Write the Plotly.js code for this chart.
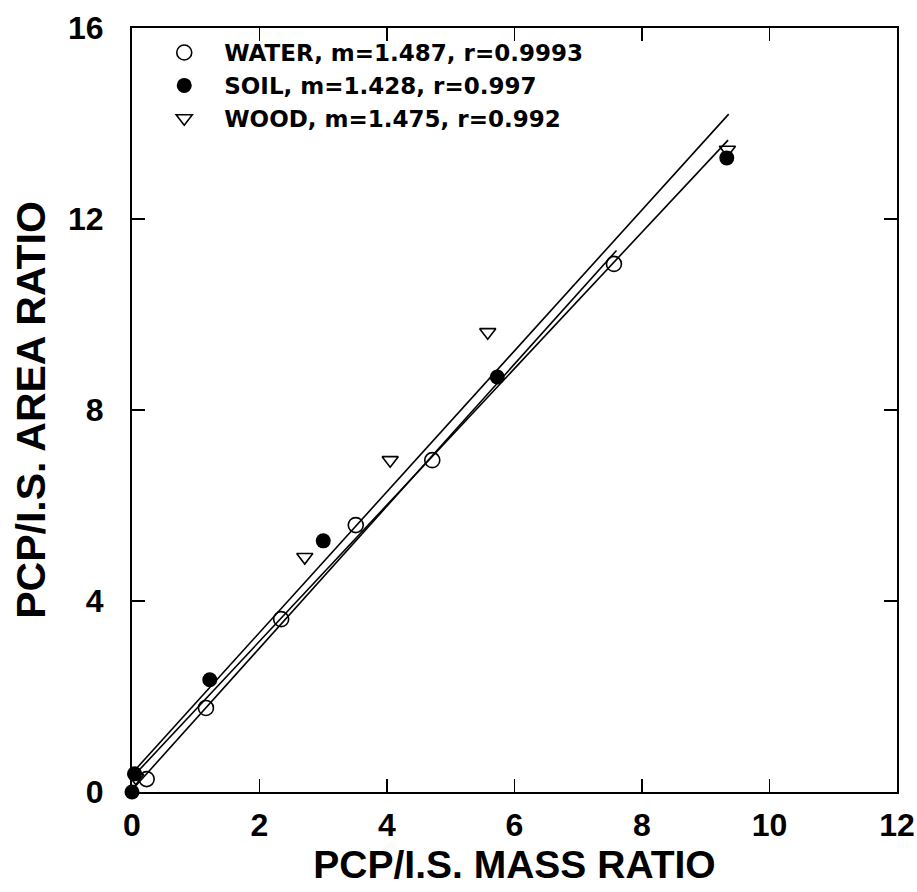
<!DOCTYPE html>
<html>
<head>
<meta charset="utf-8">
<script src="https://cdn.plot.ly/plotly-3.0.1.min.js"></script>
<style>html,body{margin:0;padding:0;background:#fff;}</style>
</head>
<body>
<div id="chart" style="width:917px;height:892px;"></div>
<script>
// Data
const waterX = [0.23, 1.16, 2.34, 3.51, 4.71, 7.56];
const waterY = [0.27, 1.76, 3.62, 5.59, 6.95, 11.06];
const soilX = [0.0, 0.04, 1.22, 3.0, 5.73, 9.33];
const soilY = [0.0, 0.38, 2.35, 5.26, 8.69, 13.28];
const woodX = [0.06, 2.71, 4.05, 5.58, 9.34];
const woodY = [0.30, 4.92, 6.95, 9.63, 13.45];

// Regression lines: slope (from legend), intercept and x-extent
const seriesNames = ["WATER, m=1.487, r=0.9993", "SOIL, m=1.428, r=0.997", "WOOD, m=1.475, r=0.992"];
const slopes = [1.487, 1.428, 1.475];
const intercepts = [0.04, 0.30, 0.39];
const lineXStart = [0, 0, 0];
const lineXEnd = [7.6, 9.35, 9.36];

const xTicks = [0, 2, 4, 6, 8, 10, 12];
const yTicks = [0, 4, 8, 12, 16];

const FONT = "Liberation Sans, Arial, Helvetica, sans-serif";
const LEGFONT = "DejaVu Sans, Liberation Sans, Arial, sans-serif";

const traces = [];
for (let i = 0; i < 3; i++) {
  const xs = [lineXStart[i], lineXEnd[i]];
  traces.push({
    x: xs, y: xs.map(v => slopes[i] * v + intercepts[i]),
    mode: "lines", line: {color: "#000", width: 1.6}, showlegend: false, hoverinfo: "skip"
  });
}
traces.push({
  x: waterX, y: waterY, mode: "markers", name: seriesNames[0], cliponaxis: false,
  marker: {symbol: "circle-open", size: 15, color: "#000", line: {width: 1.6, color: "#000"}}
});
traces.push({
  x: soilX, y: soilY, mode: "markers", name: seriesNames[1], cliponaxis: false,
  marker: {symbol: "circle", size: 15, color: "#000", line: {width: 0}}
});
traces.push({
  x: woodX, y: woodY, mode: "markers", name: seriesNames[2], cliponaxis: false,
  marker: {symbol: "triangle-down-open", size: 14, color: "#000", line: {width: 1.6, color: "#000"}}
});

const axisCommon = {
  showgrid: false, zeroline: false, showline: true, linecolor: "#000", linewidth: 2,
  mirror: "ticks", ticks: "inside", ticklen: 13, tickwidth: 1.6, tickcolor: "#000",
  tickfont: {family: FONT, size: 32, color: "#000", weight: "bold"}
};

const layout = {
  width: 917, height: 892,
  margin: {l: 132, r: 20, t: 28, b: 100},
  paper_bgcolor: "#fff", plot_bgcolor: "#fff",
  xaxis: Object.assign({}, axisCommon, {
    range: [0, 12], tickvals: xTicks, ticktext: xTicks.map(String),
    ticklabelstandoff: 4,
    title: {text: "PCP/I.S. MASS RATIO", font: {family: FONT, size: 39, color: "#000", weight: "bold"}, standoff: 0}
  }),
  yaxis: Object.assign({}, axisCommon, {
    range: [0, 16], tickvals: yTicks, ticktext: yTicks.map(String),
    ticklabelstandoff: 20,
    title: {text: "PCP/I.S. AREA RATIO", font: {family: FONT, size: 41, color: "#000", weight: "bold"}, standoff: 10}
  }),
  showlegend: true,
  legend: {
    x: 0.016, y: 0.996, xanchor: "left", yanchor: "top",
    bgcolor: "rgba(0,0,0,0)", borderwidth: 0,
    font: {family: LEGFONT, size: 23, color: "#000", weight: "bold"},
    tracegroupgap: 0, itemwidth: 70
  }
};

Plotly.newPlot("chart", traces, layout, {displayModeBar: false, staticPlot: true});
</script>
</body>
</html>
